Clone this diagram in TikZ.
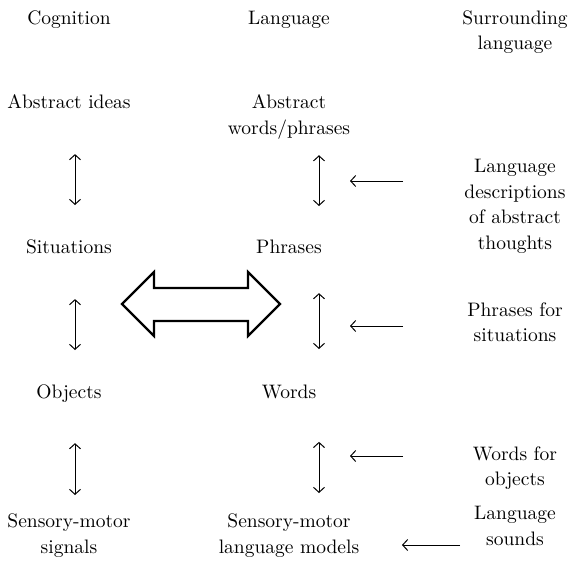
\documentclass[tikz,border=0pt]{standalone}
\usepackage{fontspec}
\setmainfont{lmroman10-regular.otf}
\usepackage{tikz}
\usetikzlibrary{arrows.meta}
\tikzset{
  lab/.style={font=\fontsize{19.5}{25.5}\selectfont, align=center, inner sep=0pt, anchor=north},
  updown/.style={draw=black, line width=1pt, {Straight Barb[length=5pt,width=11pt]}-{Straight Barb[length=5pt,width=11pt]}},
  feed/.style={draw=black, line width=1pt, -{Straight Barb[length=5pt,width=11pt]}},
  bigarrow/.style={draw=black, line width=2.2pt, fill=white},
}

\begin{document}
\begin{tikzpicture}[x=1pt,y=-1pt]
  \fill[white] (0,0) rectangle (576,562);
  \useasboundingbox (0,0) rectangle (576,562);

  % column heads
  \node[lab] (cog) at (69,10.5) {Cognition};
  \node[lab] (lang) at (289,10.5) {Language};
  \node[lab] (surr) at (515,10.5) {Surrounding\\language};

  % cognition column
  \node[lab] (ideas) at (69,94.5) {Abstract ideas};
  \node[lab] (situ) at (69,240) {Situations};
  \node[lab] (obj) at (69,384.5) {Objects};
  \node[lab] (smsig) at (69,514) {Sensory-motor\\signals};

  % language column
  \node[lab] (absw) at (289,94.5) {Abstract\\words/phrases};
  \node[lab] (phr) at (289,240) {Phrases};
  \node[lab] (words) at (289,384.5) {Words};
  \node[lab] (smlang) at (289,514) {Sensory-motor\\language models};

  % surrounding language column
  \node[lab] (descr) at (515,159) {Language\\descriptions\\of abstract\\thoughts};
  \node[lab] (phrsit) at (515,302.5) {Phrases for\\situations};
  \node[lab] (wordobj) at (515,446.5) {Words for\\objects};
  \node[lab] (sounds) at (515,506) {Language\\sounds};

  % two-way links, slightly right of the labels
  \draw[updown, shorten <=45pt, shorten >=35pt] ([xshift=6pt]ideas.south) -- ([xshift=6pt]situ.north);
  \draw[updown, shorten <=44.5pt, shorten >=34.5pt] ([xshift=6pt]situ.south) -- ([xshift=6pt]obj.north);
  \draw[updown, shorten <=40.5pt, shorten >=19pt] ([xshift=6pt]obj.south) -- ([xshift=6pt]smsig.north);
  \draw[updown, shorten <=16pt, shorten >=34pt] ([xshift=30pt]absw.south) -- ([xshift=30pt]phr.north);
  \draw[updown, shorten <=39pt, shorten >=35.5pt] ([xshift=30pt]phr.south) -- ([xshift=30pt]words.north);
  \draw[updown, shorten <=43pt, shorten >=21pt] ([xshift=30pt]words.south) -- ([xshift=30pt]smlang.north);

  % input from surrounding language
  \coordinate (outA) at (403,181);  \coordinate (inA) at (350,181);
  \coordinate (outB) at (403,326);  \coordinate (inB) at (350,326);
  \coordinate (outC) at (403,456);  \coordinate (inC) at (350,456);
  \coordinate (outD) at (460,545);  \coordinate (inD) at (402,545);
  \draw[feed] (outA) -- (inA);
  \draw[feed] (outB) -- (inB);
  \draw[feed] (outC) -- (inC);
  \draw[feed] (outD) -- (inD);

  % cognition <-> language
  \draw[bigarrow] (122,304) -- (154,272) -- (154,288) -- (248,288) -- (248,272)
    -- (280,304) -- (248,336) -- (248,321) -- (154,321) -- (154,336) -- cycle;
\end{tikzpicture}
\end{document}
